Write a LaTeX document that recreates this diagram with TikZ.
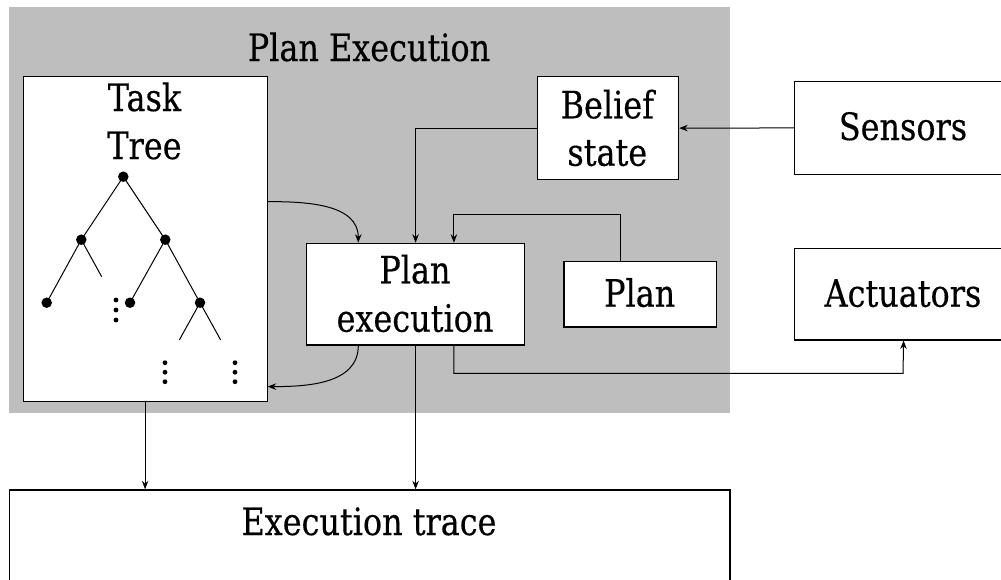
\documentclass[tikz,border=0pt]{standalone}
\usepackage{fontspec}
\setmainfont{DejaVu Serif}[FakeStretch=0.845,FakeBold=0.35]
\usetikzlibrary{arrows.meta}
\definecolor{panelgray}{RGB}{190,190,190}
\begin{document}
\begin{tikzpicture}[x=1pt,y=-1pt,
  box/.style={draw, fill=white, line width=1.2pt, inner sep=0pt, anchor=north west},
  lbl/.style={anchor=base, inner sep=0pt, font=\fontsize{37.7}{48}\selectfont},
  arr/.style={line width=1pt, -{Stealth[length=8.5pt,width=6.5pt,inset=2.8pt]}},
  tnode/.style={circle, fill=black, inner sep=0pt, minimum size=10.5pt},
  tline/.style={line width=1pt},
  vdot/.style={circle, fill=black, inner sep=0pt, minimum size=4.8pt}]
\clip (0,0) rectangle (1001,579);
\useasboundingbox (0,0) rectangle (1001,579);

% shaded plan-execution panel
\node[fill=panelgray, inner sep=0pt, minimum width=721pt, minimum height=406pt, anchor=north west] (panel) at (9,7) {};
\node[lbl] (title) at (369,61) {Plan Execution};

% boxes
\node[box, minimum width=244pt, minimum height=324.7pt] (tt) at (22.5,76) {};
\node[box, minimum width=218pt, minimum height=101.6pt] (pe) at (306,242.7) {};
\node[box, minimum width=141.3pt, minimum height=103pt] (bel) at (536.7,76) {};
\node[box, minimum width=152.7pt, minimum height=65.3pt] (plan) at (563.3,261) {};
\node[box, minimum width=218pt, minimum height=92.7pt] (sens) at (794,81) {};
\node[box, minimum width=218pt, minimum height=91.6pt] (act) at (794,247.7) {};
\node[box, minimum width=720.3pt, minimum height=120pt] (et) at (9,489.3) {};

% box texts
\node[lbl] (tt1) at (144.5,111) {Task};
\node[lbl] (tt2) at (144.5,159) {Tree};
\node[lbl] (pe1) at (415,283.3) {Plan};
\node[lbl] (pe2) at (415,331.7) {execution};
\node[lbl] (bel1) at (607.3,118.3) {Belief};
\node[lbl] (bel2) at (607.3,165.7) {state};
\node[lbl] (plan1) at (639.7,306.7) {Plan};
\node[lbl] (sens1) at (903,140) {Sensors};
\node[lbl] (act1) at (903,306.7) {Actuators};
\node[lbl] (et1) at (369,535) {Execution trace};

% task tree sketch
\coordinate (r) at (123.3,176.7);
\coordinate (a) at (81.3,239.7);
\coordinate (b) at (165.3,239.7);
\coordinate (a1) at (46.7,302.7);
\coordinate (a2) at (101.7,276.7);
\coordinate (b1) at (130,302.7);
\coordinate (b2) at (200,302.7);
\coordinate (b2l) at (179.3,340);
\coordinate (b2r) at (220.7,340);
\draw[tline] (r) -- (a) (r) -- (b) (a) -- (a1) (a) -- (a2)
  (b) -- (b1) (b) -- (b2) (b2) -- (b2l) (b2) -- (b2r);
\foreach \p [count=\i] in {r,a,b,a1,b1,b2}
  \node[tnode] (n\i) at (\p) {};
\foreach \x/\y [count=\i] in {116/300,116/310,116/320,
    165/362.7,165/372.2,165/381.7,235/362.7,235/372.2,235/381.7}
  \node[vdot] (d\i) at (\x,\y) {};

% connectors
\draw[arr] (sens.west) -- (bel.east);
\draw[arr] (bel.west) -| (pe.north);
\coordinate (pj) at (620.7,214.3);
\draw[arr] (plan.north -| pj) -- (pj) -| ([xshift=38.3pt]pe.north);
\draw[arr] ([yshift=37.35pt]tt.east) to[out=0,in=90] ([xshift=-57.3pt]pe.north);
\draw[arr] ([xshift=-57.3pt]pe.south) to[out=-90,in=0] ([yshift=-147.65pt]tt.east);
\draw[arr] (pe.south) -- (pe.south |- et.north);
\draw[arr] (tt.south) -- (tt.south |- et.north);
\coordinate (ab) at (903,373.3);
\draw[arr] ([xshift=38.3pt]pe.south) |- (ab) -- (act.south);
\end{tikzpicture}
\end{document}
